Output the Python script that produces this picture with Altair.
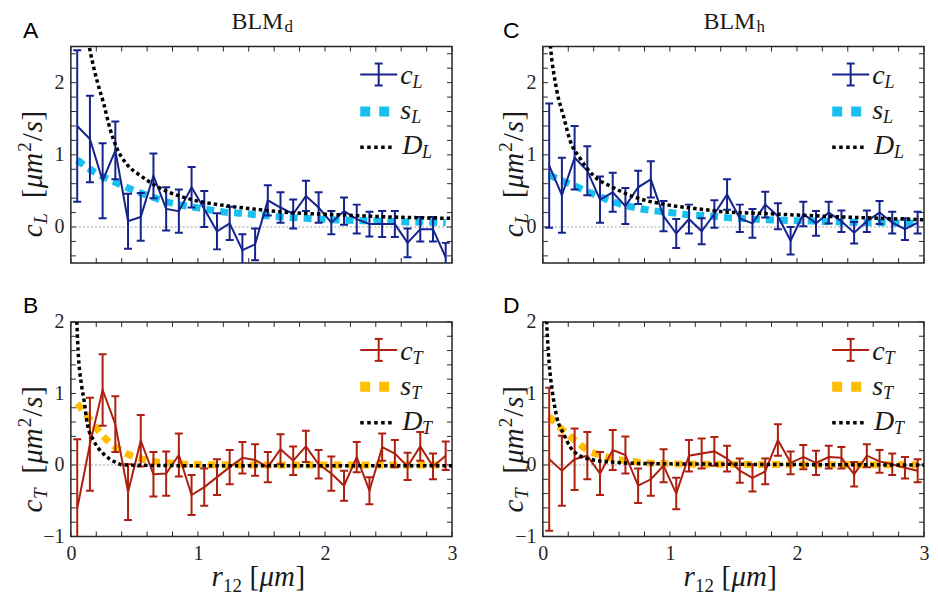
import altair as alt
import pandas as pd

# ---------------- data ----------------
R = [0.05, 0.15, 0.25, 0.35, 0.45, 0.55, 0.65, 0.75, 0.85, 0.95,
     1.05, 1.15, 1.25, 1.35, 1.45, 1.55, 1.65, 1.75, 1.85, 1.95,
     2.05, 2.15, 2.25, 2.35, 2.45, 2.55, 2.65, 2.75, 2.85, 2.95]

# Panel A : BLM_d, longitudinal
CL_D = [1.40, 1.22, 0.64, 1.06, 0.08, 0.14, 0.71, 0.25, 0.22, 0.55,
        0.25, -0.06, 0.05, -0.32, -0.24, 0.37, 0.27, 0.18, 0.43, 0.27,
        0.06, 0.22, 0.11, 0.04, 0.04, 0.04, -0.22, -0.03, -0.03, -0.42]
CL_D_ERR = [1.05, 0.60, 0.52, 0.40, 0.38, 0.33, 0.31, 0.30, 0.30, 0.28,
            0.25, 0.25, 0.23, 0.22, 0.22, 0.21, 0.21, 0.20, 0.21, 0.21,
            0.16, 0.19, 0.20, 0.17, 0.18, 0.18, 0.20, 0.17, 0.17, 0.20]
SL_D = [0.93, 0.80, 0.70, 0.62, 0.54, 0.47, 0.41, 0.35, 0.31, 0.28,
        0.25, 0.22, 0.20, 0.19, 0.17, 0.155, 0.14, 0.13, 0.12, 0.11,
        0.10, 0.095, 0.09, 0.085, 0.08, 0.075, 0.07, 0.07, 0.065, 0.06]
DLX_D = [0.12, 0.156, 0.21, 0.26, 0.31, 0.36, 0.44, 0.55, 0.69, 0.95,
         1.2, 1.46, 1.72, 2.1, 2.5, 3.0]
DLY_D = [2.75, 2.40, 2.00, 1.70, 1.35, 1.10, 0.87, 0.71, 0.55, 0.38,
         0.30, 0.245, 0.20, 0.17, 0.14, 0.12]

# Panel B : BLM_d, transverse
CT_D = [-0.61, 0.29, 1.05, 0.57, -0.38, 0.34, -0.13, -0.12, 0.14, -0.42,
        -0.31, -0.17, -0.03, 0.10, 0.07, -0.03, 0.22, 0.06, 0.26, 0.01,
        -0.12, -0.29, 0.11, -0.36, 0.25, 0.16, -0.02, 0.26, -0.02, 0.13]
CT_D_ERR = [0.97, 0.65, 0.50, 0.39, 0.39, 0.36, 0.31, 0.31, 0.30, 0.28,
            0.26, 0.25, 0.24, 0.22, 0.22, 0.21, 0.21, 0.20, 0.22, 0.20,
            0.24, 0.21, 0.21, 0.19, 0.19, 0.19, 0.19, 0.20, 0.18, 0.20]
ST_D = [0.86, 0.64, 0.41, 0.25, 0.15, 0.09, 0.05, 0.03, 0.015, 0.01,
        0.005, 0.003, 0.002, 0.0, 0.0, 0.0, 0.0, 0.0, 0.0, 0.0,
        0.0, 0.0, 0.0, 0.0, 0.0, 0.0, 0.0, 0.0, 0.0, 0.0]
DTX_D = [0.045, 0.057, 0.083, 0.104, 0.13, 0.18, 0.26, 0.35, 0.41, 1.0, 2.0, 3.0]
DTY_D = [2.10, 1.60, 1.13, 0.90, 0.57, 0.34, 0.15, 0.04, 0.0, -0.01, -0.01, -0.01]

# Panel C : BLM_h, longitudinal
CL_H = [0.85, 0.44, 0.96, 0.78, 0.38, 0.48, 0.29, 0.55, 0.66, 0.15,
        -0.09, 0.11, -0.06, 0.18, 0.45, 0.12, 0.05, 0.31, 0.15, -0.19,
        0.18, 0.05, 0.20, 0.08, -0.08, 0.08, 0.20, 0.06, -0.03, 0.06]
CL_H_ERR = [0.86, 0.52, 0.44, 0.34, 0.32, 0.27, 0.25, 0.23, 0.25, 0.21,
            0.20, 0.20, 0.18, 0.19, 0.21, 0.19, 0.20, 0.18, 0.18, 0.19,
            0.17, 0.17, 0.15, 0.15, 0.15, 0.15, 0.16, 0.15, 0.15, 0.15]
SL_H = [0.72, 0.64, 0.57, 0.49, 0.42, 0.35, 0.30, 0.26, 0.23, 0.21,
        0.19, 0.17, 0.16, 0.15, 0.13, 0.12, 0.11, 0.10, 0.095, 0.09,
        0.085, 0.08, 0.075, 0.07, 0.065, 0.06, 0.06, 0.055, 0.055, 0.05]
DLX_H = [0.05, 0.06, 0.11, 0.165, 0.216, 0.29, 0.40, 0.55, 0.73, 0.97,
         1.23, 1.43, 1.69, 2.21, 3.0]
DLY_H = [2.70, 2.50, 1.89, 1.52, 1.19, 0.96, 0.71, 0.55, 0.41, 0.31,
         0.25, 0.21, 0.19, 0.15, 0.10]

# Panel D : BLM_h, transverse
CT_H = [0.08, -0.08, 0.08, 0.13, -0.12, 0.21, 0.14, -0.29, -0.20, -0.01,
        -0.40, 0.13, 0.16, 0.19, 0.09, -0.08, -0.18, -0.09, 0.35, 0.03,
        0.11, 0.03, 0.11, 0.10, -0.13, 0.13, 0.05, 0.01, -0.04, -0.08]
CT_H_ERR = [1.00, 0.49, 0.43, 0.33, 0.30, 0.28, 0.26, 0.24, 0.23, 0.23,
            0.22, 0.22, 0.21, 0.20, 0.18, 0.17, 0.19, 0.18, 0.22, 0.16,
            0.17, 0.17, 0.16, 0.15, 0.17, 0.16, 0.16, 0.15, 0.15, 0.16]
ST_H = [0.68, 0.50, 0.35, 0.21, 0.14, 0.09, 0.06, 0.04, 0.025, 0.02,
        0.015, 0.012, 0.01, 0.01, 0.01, 0.008, 0.008, 0.007, 0.006, 0.005,
        0.005, 0.004, 0.004, 0.003, 0.003, 0.003, 0.002, 0.002, 0.002, 0.002]
DTX_H = [0.025, 0.03, 0.048, 0.074, 0.11, 0.165, 0.216, 0.29, 0.40, 0.55, 0.79, 1.5, 3.0]
DTY_H = [2.20, 2.00, 1.46, 1.04, 0.67, 0.43, 0.25, 0.13, 0.07, 0.04, 0.02, 0.01, 0.0]

# axis tick lists
X_LABELS = [0, 1, 2, 3]
Y_LABELS_L = [0, 1, 2]
Y_LABELS_T = [-1, 0, 1, 2]
X_MINOR = [0.0, 0.2, 0.4, 0.6, 0.8, 1.0, 1.2, 1.4, 1.6, 1.8, 2.0, 2.2, 2.4, 2.6, 2.8, 3.0]
Y_MINOR_L = [-0.4, -0.2, 0.0, 0.2, 0.4, 0.6, 0.8, 1.0, 1.2, 1.4, 1.6, 1.8, 2.0, 2.2, 2.4]
Y_MINOR_T = [-1.0, -0.8, -0.6, -0.4, -0.2, 0.0, 0.2, 0.4, 0.6, 0.8, 1.0, 1.2, 1.4, 1.6, 1.8, 2.0]

# ---------------- styling ----------------
AX = "#262626"
TXT = "#1a1a1a"
FONT = "Liberation Serif"
SANS = "Liberation Sans"
NAVY = "#15238c"
RED = "#ad1f0e"
CYAN = "#17c0ee"
AMBER = "#ffbe00"
W = 382
ONE = alt.Data(values=[{"k": 1}])


def txt(s, x, y, size, style="italic", font=FONT, angle=0, color=TXT):
    return alt.Chart(ONE).mark_text(
        text=s, font=font, fontSize=size, fontStyle=style, angle=angle,
        align="left", baseline="alphabetic", color=color
    ).encode(x=alt.value(x), y=alt.value(y))


def seg(x1, y1, x2, y2, color, width, dash=None):
    kw = dict(color=color, strokeWidth=width)
    if dash:
        kw["strokeDash"] = dash
    return alt.Chart(ONE).mark_rule(**kw).encode(
        x=alt.value(x1), y=alt.value(y1), x2=alt.value(x2), y2=alt.value(y2))


def panel(c, err, s, dx, dy, ydom, ylab, yminor, H, cc, sc, sym, letter,
          title_sub, show_x, letter_x, ytx, pin=False):
    df = pd.DataFrame({
        "r": R, "c": c,
        "lo": [v - e for v, e in zip(c, err)],
        "hi": [v + e for v, e in zip(c, err)],
        "s": s,
    })
    dd = pd.DataFrame({"r": dx, "d": dy})
    xs = alt.Scale(domain=[0, 3], nice=False, zero=False)
    ys = alt.Scale(domain=ydom, nice=False, zero=False)
    if show_x:
        xa = alt.Axis(values=X_LABELS, ticks=False, domain=False, grid=False, title=None,
                      labelFont=FONT, labelFontSize=20, labelColor=AX, labelPadding=7,
                      labelFlush=False, format="d")
    else:
        xa = None
    ya = alt.Axis(values=ylab, ticks=False, domain=False, grid=False, title=None,
                  labelFont=FONT, labelFontSize=20, labelColor=AX, labelPadding=7, format="d")

    def X(f):
        return alt.X(f, type="quantitative", scale=xs, axis=xa)

    def Y(f):
        return alt.Y(f, type="quantitative", scale=ys, axis=ya)

    xt = pd.DataFrame({"t": X_MINOR})
    yt = pd.DataFrame({"t": yminor})
    L = []
    L.append(alt.Chart(pd.DataFrame({"z": [0]})).mark_rule(
        color="#a0a0a0", strokeWidth=1, strokeDash=[2, 2]).encode(y=Y("z")))
    L.append(alt.Chart(xt).mark_rule(color=AX, strokeWidth=1).encode(
        x=X("t"), y=alt.value(0), y2=alt.value(5)))
    L.append(alt.Chart(xt).mark_rule(color=AX, strokeWidth=1).encode(
        x=X("t"), y=alt.value(H - 5), y2=alt.value(H)))
    L.append(alt.Chart(yt).mark_rule(color=AX, strokeWidth=1).encode(
        y=Y("t"), x=alt.value(0), x2=alt.value(5)))
    L.append(alt.Chart(yt).mark_rule(color=AX, strokeWidth=1).encode(
        y=Y("t"), x=alt.value(W - 5), x2=alt.value(W)))
    # model curve s
    L.append(alt.Chart(df).mark_line(color=sc, strokeWidth=7, strokeDash=[8, 6],
                                     interpolate="monotone", clip=True).encode(
        x=X("r"), y=Y("s")))
    # measured c with error bars
    L.append(alt.Chart(df).mark_rule(color=cc, strokeWidth=2, clip=True).encode(
        x=X("r"), y=Y("lo"), y2=alt.Y2("hi")))
    for f in ("lo", "hi"):
        L.append(alt.Chart(df).mark_tick(color=cc, orient="horizontal", size=8,
                                         thickness=2, opacity=1, clip=True).encode(
            x=X("r"), y=Y(f)))
    L.append(alt.Chart(df).mark_line(color=cc, strokeWidth=2, clip=True).encode(
        x=X("r"), y=Y("c")))
    # D curve
    L.append(alt.Chart(dd).mark_line(color="black", strokeWidth=3.5, strokeDash=[3.5, 3],
                                     interpolate="monotone", clip=True).encode(
        x=X("r"), y=Y("d")))

    # legend
    L += [
        seg(W - 92, 28, W - 55, 28, cc, 2),
        seg(W - 73.5, 17, W - 73.5, 39, cc, 2),
        seg(W - 77.5, 17, W - 69.5, 17, cc, 2),
        seg(W - 77.5, 39, W - 69.5, 39, cc, 2),
        txt("c", W - 52, 38, 28),
        txt(sym, W - 39.5, 42, 18),
        seg(W - 92, 65, W - 63, 65, sc, 10, [10, 9]),
        txt("s", W - 52, 73, 28),
        txt(sym, W - 41, 77, 18),
        seg(W - 92, 101, W - 58, 101, "black", 3.5, [3.5, 3.5]),
        txt("D", W - 50, 108, 28),
        txt(sym, W - 30, 112, 18),
    ]

    # panel letter
    L.append(txt(letter, letter_x, -9, 23, "normal", SANS, color="black"))
    # column title
    if title_sub:
        L.append(txt("BLM", W / 2 - 30, -17.5, 24, "normal"))
        L.append(txt(title_sub, W / 2 + 23, -14.5, 17, "normal"))
    # y-axis title  c_X [μm²/s]
    L += [
        txt("c", ytx, 191, 29, angle=270),
        txt(sym, ytx + 5, 177.5, 19, angle=270),
        txt("[", ytx, 152, 29, "normal", angle=270),
        txt("μm", ytx, 142, 29, angle=270),
        txt("2", ytx - 11, 105.5, 19, "normal", angle=270),
        txt("/", ytx, 95, 29, "normal", angle=270),
        txt("s", ytx, 86, 29, angle=270),
        txt("]", ytx, 74, 29, "normal", angle=270),
    ]
    # x-axis title  r_12 [μm]
    if show_x:
        cx = W / 2
        L += [
            txt("r", cx - 50, H + 50, 29),
            txt("12", cx - 38.5, H + 56, 19, "normal"),
            txt("[", cx - 12, H + 50, 29, "normal"),
            txt("μm", cx - 2, H + 50, 29),
            txt("]", cx + 34, H + 50, 29, "normal"),
        ]
    if pin:
        L.append(seg(-61.5, -36.5, -61.5, -30, "white", 1))
    return alt.layer(*L).properties(width=W, height=H)


pA = panel(CL_D, CL_D_ERR, SL_D, DLX_D, DLY_D, [-0.5, 2.5], Y_LABELS_L, Y_MINOR_L, 217,
           NAVY, CYAN, "L", "A", "d", False, -48, -29, pin=True)
pC = panel(CL_H, CL_H_ERR, SL_H, DLX_H, DLY_H, [-0.5, 2.5], Y_LABELS_L, Y_MINOR_L, 217,
           NAVY, CYAN, "L", "C", "h", False, -40, -20)
pB = panel(CT_D, CT_D_ERR, ST_D, DTX_D, DTY_D, [-1, 2], Y_LABELS_T, Y_MINOR_T, 215,
           RED, AMBER, "T", "B", None, True, -48, -29)
pD = panel(CT_H, CT_H_ERR, ST_H, DTX_H, DTY_H, [-1, 2], Y_LABELS_T, Y_MINOR_T, 215,
           RED, AMBER, "T", "D", None, True, -40, -20)

chart = alt.concat(pA, pC, pB, pD, columns=2,
                   spacing={"row": 59, "column": 91}, bounds="flush").properties(
    padding=0, background="white"
).configure_view(stroke=AX, strokeWidth=1.5)

chart.save("out.html", embed_options={"renderer": "svg", "actions": False})
